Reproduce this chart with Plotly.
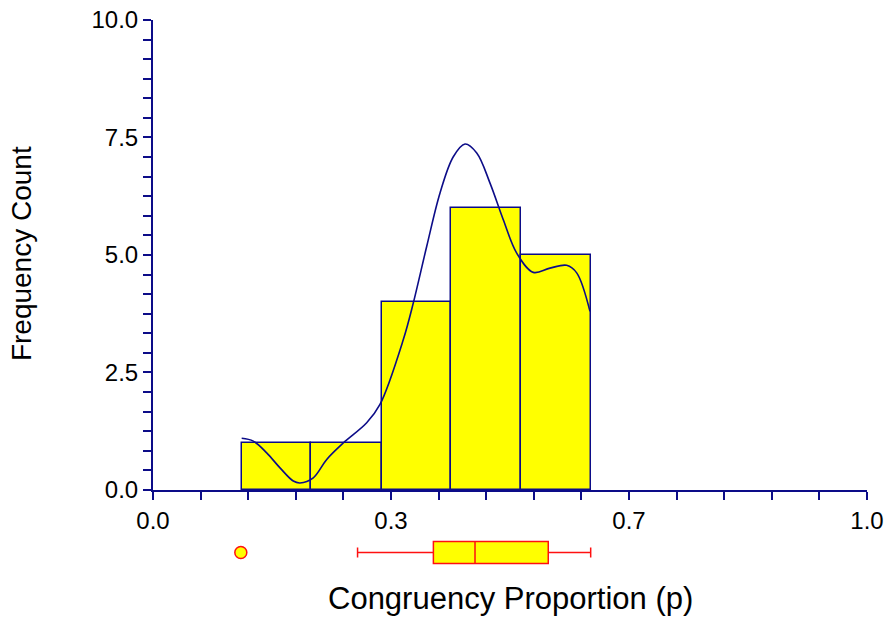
import plotly.graph_objects as go

# Histogram (bin edges and counts)
bin_edges = [0.1242, 0.2217, 0.3203, 0.4174, 0.5154, 0.6130]
counts = [1, 1, 4, 6, 5]

# Density curve
curve_x = [0.1242, 0.1405, 0.1592, 0.1779, 0.1965, 0.2059, 0.2245, 0.2433, 0.2665,
           0.2993, 0.3179, 0.3506, 0.3646, 0.3833, 0.4020, 0.4206, 0.4370, 0.4534,
           0.4720, 0.4906, 0.5094, 0.5326, 0.5560, 0.5794, 0.5934, 0.6120]
curve_y = [1.10, 1.04, 0.79, 0.47, 0.19, 0.15, 0.26, 0.65, 1.00,
           1.43, 1.82, 3.20, 3.98, 5.18, 6.32, 7.09, 7.36, 7.17,
           6.53, 5.75, 5.04, 4.63, 4.72, 4.78, 4.62, 3.80]

# Box plot statistics
box_lowerfence = 0.2865
box_q1 = 0.3927
box_median = 0.451
box_q3 = 0.5536
box_upperfence = 0.613
outliers = [0.123]

# Tick labels
x_tickvals = [0, 1/3, 2/3, 1]
x_ticktext = ["0.0", "0.3", "0.7", "1.0"]
y_tickvals = [0, 2.5, 5, 7.5, 10]
y_ticktext = ["0.0", "2.5", "5.0", "7.5", "10.0"]

NAVY = "#0c0c88"
YELLOW = "#ffff00"
RED = "#ff1010"
FONT = "Liberation Sans, Arial, sans-serif"

centers = [(a + b) / 2 for a, b in zip(bin_edges[:-1], bin_edges[1:])]
widths = [b - a for a, b in zip(bin_edges[:-1], bin_edges[1:])]

fig = go.Figure()
fig.add_trace(go.Bar(x=centers, y=counts, width=widths,
                     marker=dict(color=YELLOW, line=dict(color=NAVY, width=1.5)),
                     showlegend=False, hoverinfo="skip"))
fig.add_trace(go.Scatter(x=curve_x, y=curve_y, mode="lines",
                         line=dict(color=NAVY, width=1.6, shape="spline", smoothing=1.0),
                         showlegend=False))
fig.add_trace(go.Box(y=[0], q1=[box_q1], median=[box_median], q3=[box_q3],
                     lowerfence=[box_lowerfence], upperfence=[box_upperfence],
                     orientation="h", xaxis="x", yaxis="y2", boxpoints=False,
                     fillcolor=YELLOW, line=dict(color=RED, width=1.5),
                     width=1.26, whiskerwidth=0.45, showlegend=False))
fig.add_trace(go.Scatter(x=outliers, y=[0] * len(outliers), mode="markers",
                         xaxis="x", yaxis="y2",
                         marker=dict(color=YELLOW, size=12, line=dict(color=RED, width=1.5)),
                         showlegend=False))

tickfont = dict(family=FONT, size=24, color="black")
fig.update_layout(
    width=887, height=620,
    autosize=False,
    margin=dict(l=153, r=20, t=20, b=50, autoexpand=False),
    paper_bgcolor="white", plot_bgcolor="white",
    bargap=0,
    xaxis=dict(range=[0, 1], anchor="y", showgrid=False, zeroline=False,
               automargin=False,
               showline=True, linecolor=NAVY, linewidth=2,
               tickmode="array", tickvals=x_tickvals, ticktext=x_ticktext,
               ticks="outside", ticklen=8, tickwidth=1.5, tickcolor=NAVY,
               tickfont=tickfont, ticklabeloverflow="allow",
               minor=dict(dtick=1/15, tick0=0, ticks="outside", ticklen=8,
                          tickwidth=1.5, tickcolor=NAVY, showgrid=False)),
    yaxis=dict(range=[0, 10], domain=[0.1455, 1], showgrid=False, zeroline=False,
               automargin=False,
               showline=True, linecolor=NAVY, linewidth=2,
               tickmode="array", tickvals=y_tickvals, ticktext=y_ticktext,
               ticks="outside", ticklen=8, tickwidth=1.5, tickcolor=NAVY,
               tickfont=tickfont, ticklabeloverflow="allow",
               minor=dict(dtick=2.5/6, tick0=0, ticks="outside", ticklen=8,
                          tickwidth=1.5, tickcolor=NAVY, showgrid=False)),
    yaxis2=dict(domain=[0, 0.0636], range=[-1, 1], anchor="x", visible=False,
                automargin=False),
    annotations=[
        dict(text="Congruency Proportion (p)", xref="paper", yref="paper",
             x=0.5, y=-0.051, showarrow=False, xanchor="center", yanchor="middle",
             font=dict(family=FONT, size=31, color="black")),
        dict(text="Frequency Count", xref="paper", yref="paper",
             x=-0.185, y=0.576, showarrow=False, xanchor="center", yanchor="middle",
             textangle=-90, font=dict(family=FONT, size=28, color="black")),
    ],
)

fig.write_html(
    "out.html",
    config={"displayModeBar": False},
    post_script="document.body.style.margin='0';document.body.style.padding='0';"
                "document.body.style.overflow='hidden';",
)
